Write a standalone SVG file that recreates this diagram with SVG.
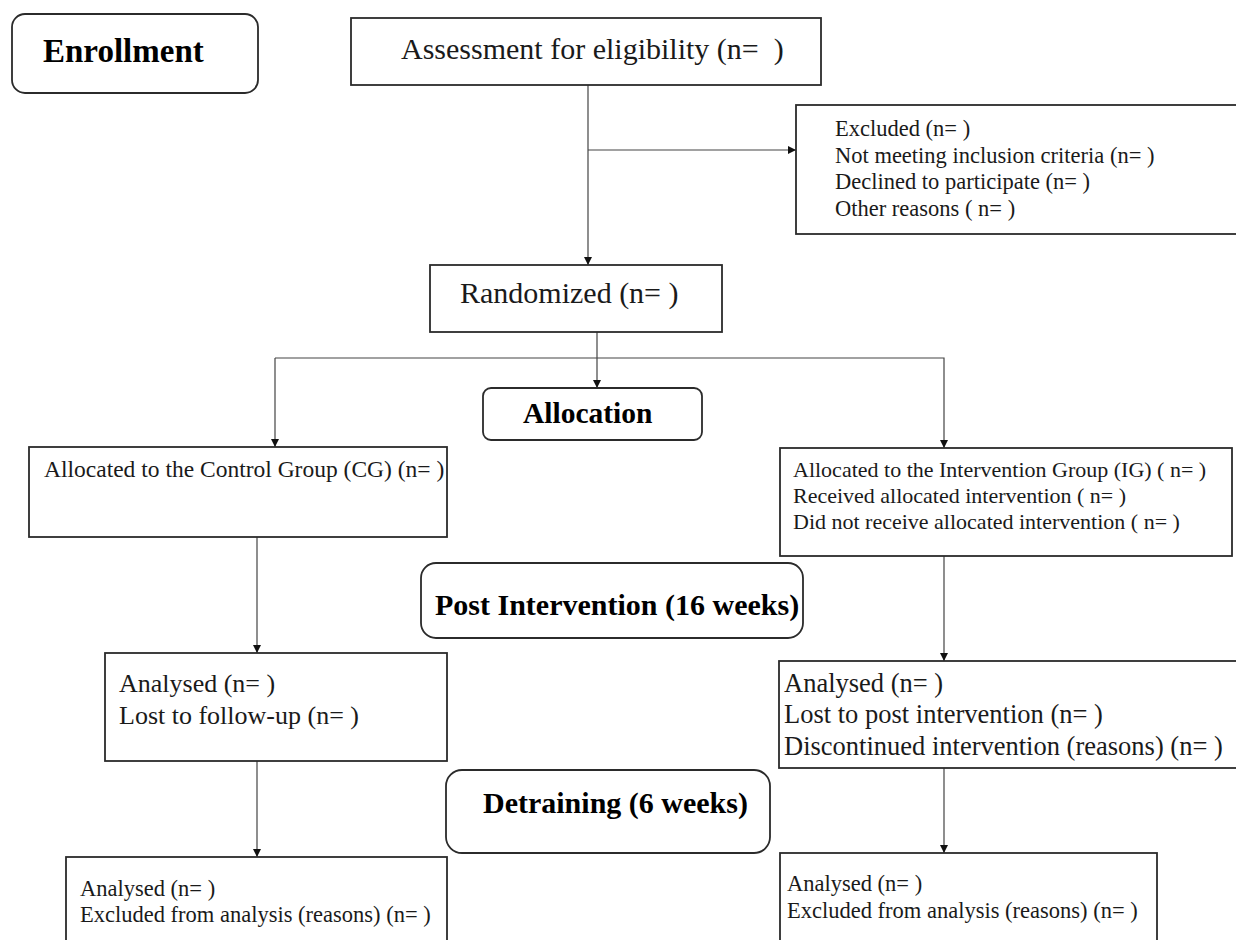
<svg xmlns="http://www.w3.org/2000/svg" width="1236" height="940" viewBox="0 0 1236 940">
<style>
  .box { fill: #ffffff; stroke: #2b2b2b; stroke-width: 1.8; }
  .conn { fill: none; stroke: #444444; stroke-width: 1.2; }
  .t { font-family: "Liberation Serif", "Times New Roman", serif; fill: #1a1a1a; }
  .b { font-family: "Liberation Serif", "Times New Roman", serif; font-weight: bold; fill: #000000; }
</style>
<defs>
  <marker id="arrow" viewBox="0 0 10 10" refX="10" refY="5" markerWidth="9" markerHeight="8" markerUnits="userSpaceOnUse" orient="auto">
    <path d="M0,0 L10,5 L0,10 Z" fill="#111111"/>
  </marker>
</defs>
<rect width="1236" height="940" fill="#ffffff"/>

<g id="connectors">
  <line class="conn" x1="588" y1="85" x2="588" y2="265" marker-end="url(#arrow)"/>
  <line class="conn" x1="588" y1="150" x2="796" y2="150" marker-end="url(#arrow)"/>
  <line class="conn" x1="597" y1="332" x2="597" y2="388" marker-end="url(#arrow)"/>
  <polyline class="conn" points="275,358 944,358 944,448" marker-end="url(#arrow)"/>
  <line class="conn" x1="275" y1="358" x2="275" y2="447" marker-end="url(#arrow)"/>
  <line class="conn" x1="257" y1="537" x2="257" y2="653" marker-end="url(#arrow)"/>
  <line class="conn" x1="944" y1="556" x2="944" y2="661" marker-end="url(#arrow)"/>
  <line class="conn" x1="257" y1="761" x2="257" y2="857" marker-end="url(#arrow)"/>
  <line class="conn" x1="944" y1="768" x2="944" y2="853" marker-end="url(#arrow)"/>
</g>

<g id="enrollment">
  <rect class="box" x="12" y="14" width="246" height="79" rx="13"/>
  <text class="b" x="43" y="62" font-size="33">Enrollment</text>
</g>

<g id="assessment">
  <rect class="box" x="351" y="18" width="470" height="67"/>
  <text class="t" x="401" y="59" font-size="30" xml:space="preserve">Assessment for eligibility (n=  )</text>
</g>

<g id="excluded">
  <rect class="box" x="796" y="105" width="444" height="129"/>
  <text class="t" x="835" y="136" font-size="22.5">Excluded (n= )</text>
  <text class="t" x="835" y="163" font-size="22.5">Not meeting inclusion criteria (n= )</text>
  <text class="t" x="835" y="189" font-size="22.5">Declined to participate (n= )</text>
  <text class="t" x="835" y="216" font-size="22.5">Other reasons ( n= )</text>
</g>

<g id="randomized">
  <rect class="box" x="430" y="265" width="292" height="67"/>
  <text class="t" x="460" y="303" font-size="30">Randomized (n= )</text>
</g>

<g id="allocation">
  <rect class="box" x="483" y="388" width="219" height="52" rx="8"/>
  <text class="b" x="523" y="423" font-size="29.5">Allocation</text>
</g>

<g id="control-group">
  <rect class="box" x="29" y="447" width="418" height="90"/>
  <text class="t" x="44" y="477" font-size="23.5">Allocated to the Control Group (CG) (n= )</text>
</g>

<g id="intervention-group">
  <rect class="box" x="780" y="448" width="452" height="108"/>
  <text class="t" x="793" y="477" font-size="22">Allocated to the Intervention Group (IG) ( n= )</text>
  <text class="t" x="793" y="503" font-size="22">Received allocated intervention ( n= )</text>
  <text class="t" x="793" y="529" font-size="22">Did not receive allocated intervention ( n= )</text>
</g>

<g id="post-intervention">
  <rect class="box" x="421" y="563" width="382" height="75" rx="15"/>
  <text class="b" x="435" y="615" font-size="30">Post Intervention (16 weeks)</text>
</g>

<g id="cg-analysed-post">
  <rect class="box" x="105" y="653" width="342" height="108"/>
  <text class="t" x="119" y="692" font-size="26">Analysed (n= )</text>
  <text class="t" x="119" y="724" font-size="26">Lost to follow-up (n= )</text>
</g>

<g id="ig-analysed-post">
  <rect class="box" x="779" y="661" width="461" height="107"/>
  <text class="t" x="784" y="692" font-size="26.5">Analysed (n= )</text>
  <text class="t" x="784" y="723" font-size="26.5">Lost to post intervention (n= )</text>
  <text class="t" x="784" y="755" font-size="26.5">Discontinued intervention (reasons) (n= )</text>
</g>

<g id="detraining">
  <rect class="box" x="446" y="770" width="324" height="83" rx="16"/>
  <text class="b" x="483" y="813" font-size="30">Detraining (6 weeks)</text>
</g>

<g id="cg-analysed-detraining">
  <rect class="box" x="66" y="857" width="381" height="100"/>
  <text class="t" x="80" y="896" font-size="22.5">Analysed (n= )</text>
  <text class="t" x="80" y="922" font-size="22.5">Excluded from analysis (reasons) (n= )</text>
</g>

<g id="ig-analysed-detraining">
  <rect class="box" x="780" y="853" width="377" height="100"/>
  <text class="t" x="787" y="891" font-size="22.5">Analysed (n= )</text>
  <text class="t" x="787" y="918" font-size="22.5">Excluded from analysis (reasons) (n= )</text>
</g>
</svg>
